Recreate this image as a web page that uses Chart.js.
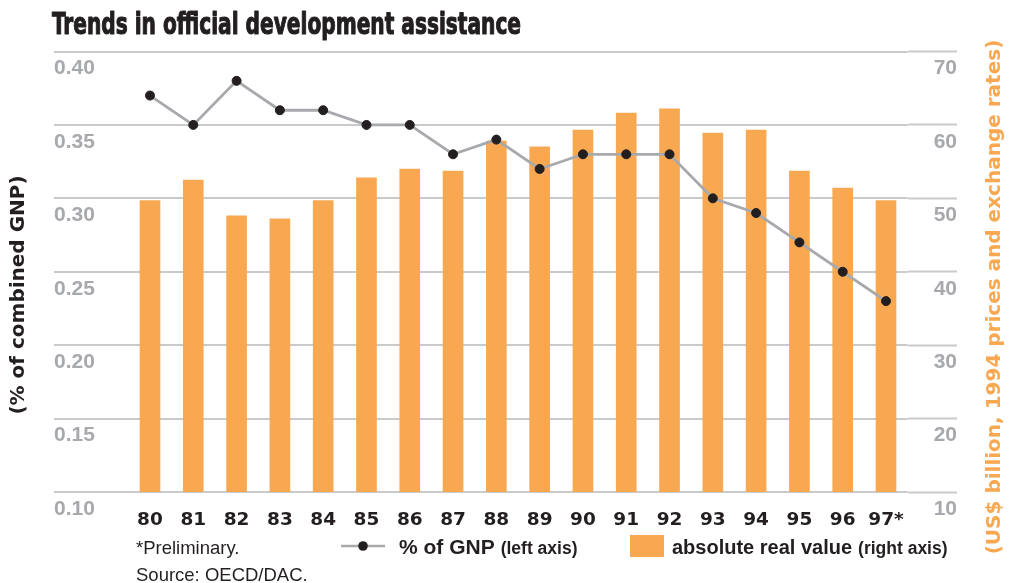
<!DOCTYPE html>
<html>
<head>
<meta charset="utf-8">
<script src="https://cdn.jsdelivr.net/npm/chart.js@4/dist/chart.umd.min.js"></script>
<style>
  html, body { margin: 0; padding: 0; background: #ffffff; }
  #wrap { width: 1010px; height: 583px; position: relative; }
</style>
</head>
<body>
<div id="wrap"><canvas id="oda" width="1010" height="583"></canvas></div>
<script>
// Years (1980-1997, last one preliminary)
const years = ['80', '81', '82', '83', '84', '85', '86', '87', '88', '89',
               '90', '91', '92', '93', '94', '95', '96', '97*'];
// ODA as % of combined GNP (left axis)
const gnpShare = [0.37, 0.35, 0.38, 0.36, 0.36, 0.35, 0.35, 0.33, 0.34,
                  0.32, 0.33, 0.33, 0.33, 0.30, 0.29, 0.27, 0.25, 0.23];
// ODA absolute real value, US$ billion at 1994 prices (right axis)
const realValue = [49.7, 52.5, 47.6, 47.2, 49.7, 52.8, 54.0, 53.7, 57.8,
                   57.0, 59.3, 61.6, 62.2, 58.9, 59.3, 53.7, 51.4, 49.7];
// Axis tick values
const leftTicks = [0.10, 0.15, 0.20, 0.25, 0.30, 0.35, 0.40];
const rightTicks = [10, 20, 30, 40, 50, 60, 70];

const INK = '#231f20';
const GREY_TEXT = '#a7a9ac';
const GRID = '#c9cacc';
const ORANGE = '#f9a852';
const LINE_GREY = '#a7a9ac';

const PAD_LEFT = 54, PAD_RIGHT = 53, PAD_TOP = 51.5;
const PLOT_LEFT = 128.35, PLOT_RIGHT = 907.65, PLOT_BOTTOM = 492;
const W = 1010, H = 583;

const decor = {
  id: 'decor',
  afterDraw(chart) {
    const ctx = chart.ctx;
    ctx.save();

    // Heading, set in a condensed heavy face
    ctx.fillStyle = INK;
    ctx.strokeStyle = INK;
    ctx.lineWidth = 1.1;
    ctx.lineJoin = 'round';
    ctx.textBaseline = 'alphabetic';
    ctx.textAlign = 'left';
    ctx.font = 'bold 31px "DejaVu Sans Condensed", "DejaVu Sans", sans-serif';
    const heading = 'Trends in official development assistance';
    const hw = ctx.measureText(heading).width;
    ctx.save();
    ctx.translate(52, 34);
    ctx.scale(469 / hw, 1);
    ctx.fillText(heading, 0, 0);
    ctx.strokeText(heading, 0, 0);
    ctx.restore();

    // Left axis title
    ctx.save();
    ctx.translate(19, 295);
    ctx.rotate(-Math.PI / 2);
    ctx.textAlign = 'center';
    ctx.textBaseline = 'middle';
    ctx.font = 'bold 20px "DejaVu Sans", sans-serif';
    ctx.fillStyle = INK;
    ctx.fillText('(% of combined GNP)', 0, 0);
    ctx.restore();

    // Right axis title
    ctx.save();
    ctx.translate(995, 297);
    ctx.rotate(-Math.PI / 2);
    ctx.textAlign = 'center';
    ctx.textBaseline = 'middle';
    ctx.font = 'bold 20px "DejaVu Sans", sans-serif';
    ctx.fillStyle = ORANGE;
    ctx.fillText('(US$ billion, 1994 prices and exchange rates)', 0, 0);
    ctx.restore();

    // Footnotes
    ctx.textAlign = 'left';
    ctx.textBaseline = 'alphabetic';
    ctx.fillStyle = INK;
    ctx.font = '18.5px "Liberation Sans", Arial, sans-serif';
    ctx.fillText('*Preliminary.', 136, 554);
    ctx.fillText('Source: OECD/DAC.', 136, 581);

    // Legend: line series
    ctx.strokeStyle = LINE_GREY;
    ctx.lineWidth = 2.5;
    ctx.beginPath();
    ctx.moveTo(341, 546);
    ctx.lineTo(385, 546);
    ctx.stroke();
    ctx.fillStyle = INK;
    ctx.beginPath();
    ctx.arc(363, 546, 4.8, 0, Math.PI * 2);
    ctx.fill();

    let x = 399;
    ctx.font = 'bold 21px "Liberation Sans", Arial, sans-serif';
    ctx.fillText('% of GNP', x, 554);
    x += ctx.measureText('% of GNP').width + 6;
    ctx.font = 'bold 17.5px "Liberation Sans", Arial, sans-serif';
    ctx.fillText('(left axis)', x, 554);

    // Legend: bar series
    ctx.fillStyle = ORANGE;
    ctx.fillRect(630, 535, 34, 22);
    ctx.fillStyle = INK;
    x = 672;
    ctx.font = 'bold 20px "Liberation Sans", Arial, sans-serif';
    ctx.fillText('absolute real value', x, 554);
    x += ctx.measureText('absolute real value').width + 6;
    ctx.font = 'bold 17.5px "Liberation Sans", Arial, sans-serif';
    ctx.fillText('(right axis)', x, 554);

    ctx.restore();
  }
};

new Chart(document.getElementById('oda'), {
  type: 'bar',
  data: {
    labels: years,
    datasets: [
      {
        type: 'line',
        label: '% of GNP',
        data: gnpShare,
        yAxisID: 'y',
        order: 1,
        borderColor: LINE_GREY,
        borderWidth: 2.8,
        tension: 0,
        fill: false,
        pointRadius: 4.5,
        pointBorderWidth: 1,
        pointBackgroundColor: INK,
        pointBorderColor: INK
      },
      {
        type: 'bar',
        label: 'absolute real value',
        data: realValue,
        yAxisID: 'y2',
        order: 2,
        backgroundColor: ORANGE,
        borderWidth: 0,
        barThickness: 20
      }
    ]
  },
  options: {
    responsive: false,
    animation: false,
    devicePixelRatio: 1,
    layout: { padding: { left: PAD_LEFT, right: PAD_RIGHT, top: PAD_TOP, bottom: 0 } },
    plugins: {
      legend: { display: false },
      tooltip: { enabled: false },
      title: { display: false }
    },
    scales: {
      x: {
        type: 'category',
        grid: { display: false },
        border: { display: false },
        ticks: {
          autoSkip: false,
          maxRotation: 0,
          padding: 9,
          color: INK,
          font: { family: '"DejaVu Sans", sans-serif', weight: 'bold', size: 18.5 }
        },
        afterFit(scale) { scale.height = H - PLOT_BOTTOM; }
      },
      y: {
        type: 'linear',
        position: 'left',
        min: 0.10,
        max: 0.40,
        afterBuildTicks(scale) { scale.ticks = leftTicks.map(v => ({ value: v })); },
        grid: {
          color: GRID,
          lineWidth: 2,
          drawTicks: true,
          tickLength: PLOT_LEFT - PAD_LEFT,
          tickColor: GRID,
          tickWidth: 2
        },
        border: { display: false },
        ticks: {
          crossAlign: 'far',
          labelOffset: 17,
          color: GREY_TEXT,
          font: { family: '"Liberation Sans", Arial, sans-serif', weight: 'bold', size: 21 },
          callback: v => Number(v).toFixed(2)
        },
        afterFit(scale) { scale.width = PLOT_LEFT - PAD_LEFT; }
      },
      y2: {
        type: 'linear',
        position: 'right',
        min: 10,
        max: 70,
        afterBuildTicks(scale) { scale.ticks = rightTicks.map(v => ({ value: v })); },
        grid: {
          drawOnChartArea: false,
          drawTicks: true,
          tickLength: (W - PAD_RIGHT) - PLOT_RIGHT,
          tickColor: GRID,
          tickWidth: 2
        },
        border: { display: false },
        ticks: {
          crossAlign: 'far',
          labelOffset: 17,
          color: GREY_TEXT,
          font: { family: '"Liberation Sans", Arial, sans-serif', weight: 'bold', size: 21 },
          callback: v => String(v)
        },
        afterFit(scale) { scale.width = (W - PAD_RIGHT) - PLOT_RIGHT; }
      }
    }
  },
  plugins: [decor]
});
</script>
</body>
</html>
